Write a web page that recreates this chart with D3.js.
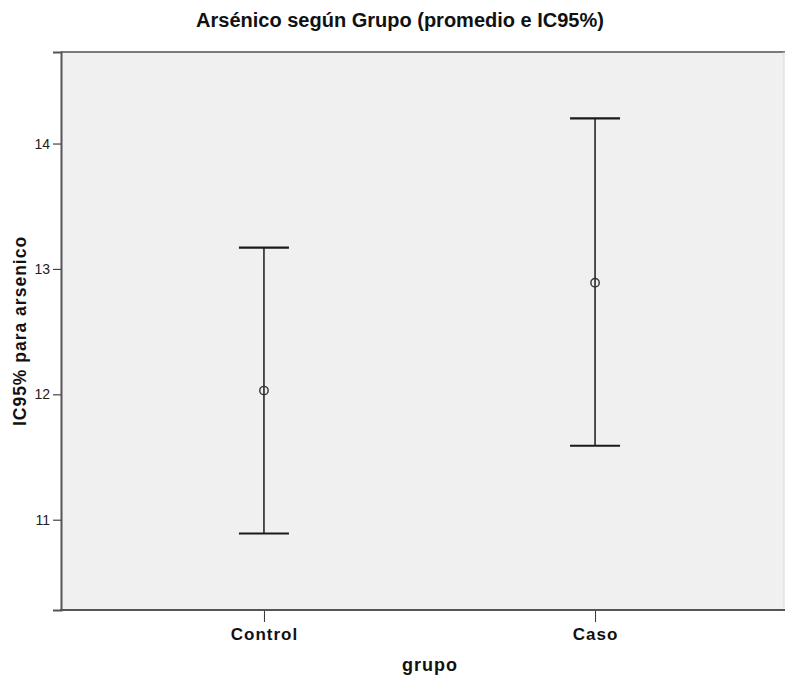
<!DOCTYPE html>
<html lang="es">
<head>
  <meta charset="UTF-8">
  <title>Arsénico según Grupo</title>
  <style>
    body { margin: 0; background: #fff; }
    svg { display: block; }
    text { font-family: "Liberation Sans", Arial, sans-serif; }
  </style>
  <script src="https://cdn.jsdelivr.net/npm/d3@7/dist/d3.min.js"></script>
</head>
<body>
  <svg id="chart" width="785" height="681"></svg>
  <script>
    // data
    const groups = ['Control', 'Caso'];
    const means = [12.03, 12.89];
    const lower = [10.89, 11.59];
    const upper = [13.17, 14.2];
    const yTicks = [11, 12, 13, 14];

    const svg = d3.select('#chart');

    // plot box
    const boxLeft = 61, boxTop = 52, boxBottom = 610, boxRight = 784;

    const x = d3.scalePoint()
      .domain(groups)
      .range([boxLeft, 798])
      .padding(0.613);

    const y = d3.scaleLinear()
      .domain([10.28, 14.73])
      .range([boxBottom, boxTop]);

    svg.append('rect')
      .attr('x', boxLeft).attr('y', boxTop)
      .attr('width', boxRight - boxLeft).attr('height', boxBottom - boxTop)
      .attr('fill', '#f0f0f0');

    // frame
    svg.append('line')
      .attr('x1', boxLeft).attr('x2', boxRight + 1).attr('y1', boxTop).attr('y2', boxTop)
      .attr('stroke', '#7a7a7a').attr('stroke-width', 2);
    svg.append('line')
      .attr('x1', boxRight).attr('x2', boxRight).attr('y1', boxTop).attr('y2', boxBottom)
      .attr('stroke', '#d8d8d8').attr('stroke-width', 1);

    // y axis
    const yAxis = svg.append('g')
      .attr('transform', `translate(${boxLeft},0)`)
      .call(d3.axisLeft(y).tickValues(yTicks).tickSize(8).tickPadding(3).tickFormat(d3.format('d')));
    yAxis.select('.domain').attr('stroke', '#555').attr('stroke-width', 2);
    yAxis.selectAll('.tick line').attr('stroke', '#444').attr('stroke-width', 1.2);
    yAxis.selectAll('.tick text')
      .attr('font-size', 14).attr('fill', '#222')
      .style('font-family', '"Liberation Sans", Arial, sans-serif');

    // x axis
    const xAxis = svg.append('g')
      .attr('transform', `translate(0,${boxBottom})`)
      .call(d3.axisBottom(x).tickSize(12).tickPadding(6));
    xAxis.select('.domain').remove();
    svg.append('line')
      .attr('x1', boxLeft - 1).attr('x2', boxRight + 1).attr('y1', boxBottom).attr('y2', boxBottom)
      .attr('stroke', '#555').attr('stroke-width', 2);
    xAxis.selectAll('.tick line').attr('stroke', '#333').attr('stroke-width', 1);
    xAxis.selectAll('.tick text')
      .attr('font-size', 17).attr('font-weight', 'bold').attr('fill', '#111')
      .attr('letter-spacing', 1)
      .style('font-family', '"Liberation Sans", Arial, sans-serif');

    // error bars
    const bars = svg.append('g')
      .selectAll('g')
      .data(groups)
      .join('g');

    bars.append('line')
      .attr('x1', d => x(d)).attr('x2', d => x(d))
      .attr('y1', (d, i) => y(upper[i])).attr('y2', (d, i) => y(lower[i]))
      .attr('stroke', '#1a1a1a').attr('stroke-width', 1.5);

    bars.append('line')
      .attr('x1', d => x(d) - 25).attr('x2', d => x(d) + 25)
      .attr('y1', (d, i) => y(upper[i])).attr('y2', (d, i) => y(upper[i]))
      .attr('stroke', '#1a1a1a').attr('stroke-width', 2.2);

    bars.append('line')
      .attr('x1', d => x(d) - 25).attr('x2', d => x(d) + 25)
      .attr('y1', (d, i) => y(lower[i])).attr('y2', (d, i) => y(lower[i]))
      .attr('stroke', '#1a1a1a').attr('stroke-width', 2.2);

    bars.append('circle')
      .attr('cx', d => x(d))
      .attr('cy', (d, i) => y(means[i]))
      .attr('r', 4.2)
      .attr('fill', 'none')
      .attr('stroke', '#333').attr('stroke-width', 1.4);

    // titles
    svg.append('text')
      .attr('x', 400).attr('y', 27)
      .attr('text-anchor', 'middle')
      .attr('font-size', 20).attr('font-weight', 'bold').attr('fill', '#111')
      .text('Arsénico según Grupo (promedio e IC95%)');

    svg.append('text')
      .attr('x', 430).attr('y', 671)
      .attr('text-anchor', 'middle')
      .attr('font-size', 18).attr('font-weight', 'bold').attr('fill', '#111')
      .attr('letter-spacing', 1)
      .text('grupo');

    svg.append('text')
      .attr('transform', `translate(26,${(boxTop + boxBottom) / 2}) rotate(-90)`)
      .attr('text-anchor', 'middle')
      .attr('font-size', 17.5).attr('font-weight', 'bold').attr('fill', '#111')
      .attr('letter-spacing', 1)
      .text('IC95% para arsenico');
  </script>
</body>
</html>
